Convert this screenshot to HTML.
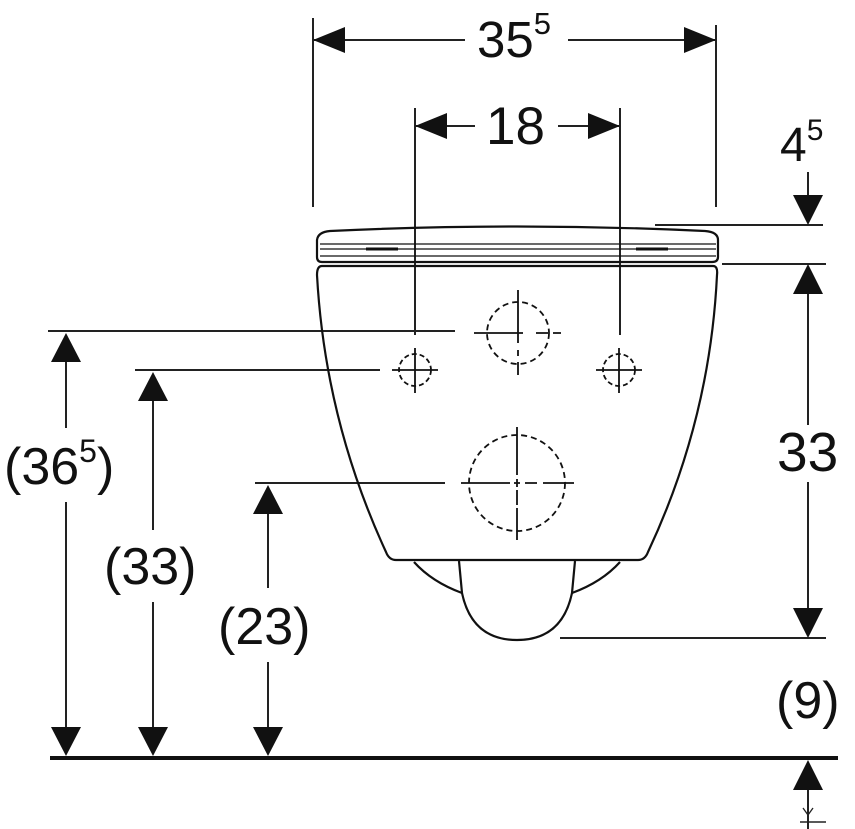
<!DOCTYPE html>
<html><head><meta charset="utf-8"><style>
html,body{margin:0;padding:0;background:#fff;}
svg{display:block}
text{font-family:"Liberation Sans",sans-serif;fill:#111}
</style></head><body>
<svg width="855" height="829" viewBox="0 0 855 829" xmlns="http://www.w3.org/2000/svg">
<g stroke="#222" stroke-width="2" fill="none">
<line x1="313" y1="18" x2="313" y2="207"/>
<line x1="716" y1="25" x2="716" y2="207"/>
<line x1="313" y1="40" x2="465" y2="40"/>
<line x1="568" y1="40" x2="716" y2="40"/>
<line x1="415" y1="108" x2="415" y2="335"/>
<line x1="620" y1="108" x2="620" y2="335"/>
<line x1="415" y1="126" x2="475" y2="126"/>
<line x1="558" y1="126" x2="620" y2="126"/>
<line x1="655" y1="225" x2="823" y2="225"/>
<line x1="722" y1="264" x2="826" y2="264"/>
<line x1="808" y1="172" x2="808" y2="200"/>
<line x1="808" y1="290" x2="808" y2="425"/>
<line x1="808" y1="482" x2="808" y2="615"/>
<line x1="560" y1="638" x2="826" y2="638"/>
<line x1="808" y1="785" x2="808" y2="829"/>
<line x1="800" y1="822" x2="826" y2="822" stroke-width="1.5"/>
<line x1="48" y1="331" x2="455" y2="331"/>
<line x1="66" y1="355" x2="66" y2="428"/>
<line x1="66" y1="502" x2="66" y2="735"/>
<line x1="135" y1="370" x2="380" y2="370"/>
<line x1="153" y1="395" x2="153" y2="530"/>
<line x1="153" y1="602" x2="153" y2="735"/>
<line x1="255" y1="483" x2="445" y2="483"/>
<line x1="268" y1="508" x2="268" y2="588"/>
<line x1="268" y1="662" x2="268" y2="735"/>
</g>
<line x1="50" y1="758" x2="838" y2="758" stroke="#111" stroke-width="4"/>
<g fill="#111">
<polygon points="313,40 345,27 345,53"/>
<polygon points="716,40 684,27 684,53"/>
<polygon points="415,126 447,113 447,139"/>
<polygon points="620,126 588,113 588,139"/>
<polygon points="808,225 793,195 823,195"/>
<polygon points="808,264 793,294 823,294"/>
<polygon points="808,638 793,608 823,608"/>
<polygon points="808,760 793,790 823,790"/>
<polygon points="66,333 51,362 81,362"/>
<polygon points="66,756 51,727 81,727"/>
<polygon points="153,372 138,401 168,401"/>
<polygon points="153,756 138,727 168,727"/>
<polygon points="268,485 253,514 283,514"/>
<polygon points="268,756 253,727 283,727"/>
</g>
<path d="M808 795 V815 M803 808 L808 815 L813 808" stroke="#222" stroke-width="1.3" fill="none"/>
<g stroke="#111" stroke-width="2.2" fill="none" stroke-linejoin="round">
<path d="M317 240 Q318 232 330 231 Q517 222 705 231 Q718 232 718 240 V257 Q718 262 712 262 H322 Q317 262 317 257 Z"/>
<line x1="320" y1="244" x2="716" y2="244" stroke-width="1.3"/>
<line x1="320" y1="249" x2="716" y2="249" stroke-width="1.3"/>
<line x1="320" y1="256" x2="716" y2="256" stroke-width="1.3"/>
<line x1="366" y1="249" x2="398" y2="249" stroke-width="3"/>
<line x1="636" y1="249" x2="668" y2="249" stroke-width="3"/>
<path d="M322 266 H713 Q718 266 717 275 Q710 420 648 552 Q645 560 638 560 H396 Q389 560 386 552 Q325 420 317 275 Q317 266 322 266 Z"/>
<path d="M459 561 L462 593 Q472 640 517 640 Q562 640 572 593 L575 561"/>
<path d="M414 562 Q432 582 462 593"/>
<path d="M620 562 Q602 582 572 593"/>
</g>
<g stroke="#111" stroke-width="1.8" fill="none">
<circle cx="518" cy="333" r="31" stroke-dasharray="6,4"/>
<circle cx="415" cy="370" r="16" stroke-dasharray="5,3"/>
<circle cx="619" cy="370" r="16" stroke-dasharray="5,3"/>
<circle cx="517" cy="483" r="48" stroke-dasharray="6,4"/>
<path d="M474 333 H523 M536 333 H548 M553 333 H561 M518 290 V343 M518 350 V356 M518 362 V375"/>
<path d="M392 370 H438 M415 348 V393"/>
<path d="M596 370 H642 M619 348 V393"/>
<path d="M461 483 H510 M514 483 H520 M525 483 H537 M543 483 H574 M517 427 V475 M517 479 V487 M517 490 V505 M517 508 V540"/>
</g>
<text x="477" y="57" font-size="51">35<tspan font-size="31" dy="-23">5</tspan></text>
<text x="486" y="144" font-size="53">18</text>
<text x="780" y="161" font-size="48">4<tspan font-size="30" dy="-21">5</tspan></text>
<text x="777" y="471" font-size="55">33</text>
<text x="776" y="718" font-size="52">(9)</text>
<text x="4" y="484" font-size="52">(36<tspan font-size="32" dy="-22">5</tspan><tspan dy="22">)</tspan></text>
<text x="104" y="584" font-size="52">(33)</text>
<text x="218" y="644" font-size="52">(23)</text>
</svg>
</body></html>
